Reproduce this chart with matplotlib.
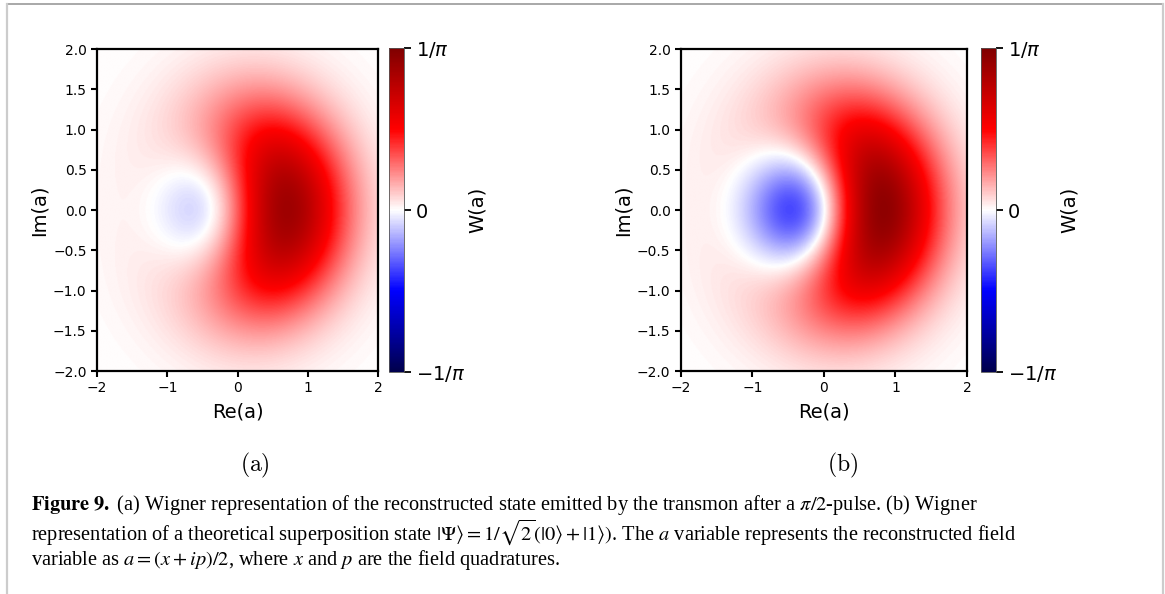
import numpy as np
import matplotlib
matplotlib.use("Agg")
from matplotlib import pyplot as plt
from matplotlib.lines import Line2D


# density matrix elements in the Fock basis {|0>, |1>}: populations and coherence
panels = [r"$\mathrm{(a)}$", r"$\mathrm{(b)}$"]
p0_vals = [0.66, 0.5]
p1_vals = [0.34, 0.5]
coh_vals = [0.39, 0.5]

xticks = [-2, -1, 0, 1, 2]
yticks = [-2.0, -1.5, -1.0, -0.5, 0.0, 0.5, 1.0, 1.5, 2.0]
cbar_ticks = [-1 / np.pi, 0, 1 / np.pi]
cbar_labels = [r"$-1/\pi$", "0", r"$1/\pi$"]

caption = [
    r"$\mathbf{Figure\ 9.}$ (a) Wigner representation of the reconstructed state emitted by the transmon after a $\pi/2$-pulse. (b) Wigner",
    r"representation of a theoretical superposition state $|\Psi\rangle = 1/\sqrt{2}(|0\rangle + |1\rangle)$. The $a$ variable represents the reconstructed field",
    r"variable as $a = (x + ip)/2$, where $x$ and $p$ are the field quadratures.",
]


#wigner function of a qubit-like state truncated to the first two fock levels
def wigner(x, y, p0, p1, c):
    r2 = x**2 + y**2
    return np.exp(-r2) / np.pi * (p0 + p1 * (2 * r2 - 1) + 2 * np.sqrt(2) * c * x)


def main():
    fig = plt.figure(figsize=(11.65, 5.94), dpi=100)

    grid = np.linspace(-2, 2, 401)
    X, Y = np.meshgrid(grid, grid)

    #axes boxes [left, bottom, width, height] for the map and its colorbar
    ax_pos = [[0.0833, 0.3754, 0.2412, 0.5421], [0.5845, 0.3754, 0.2455, 0.5421]]
    cb_pos = [[0.3339, 0.3737, 0.0129, 0.5455], [0.8421, 0.3737, 0.0129, 0.5455]]
    sub_x = [255 / 1165, 843 / 1165]

    for i in range(2):
        ax = fig.add_axes(ax_pos[i])
        W = wigner(X, Y, p0_vals[i], p1_vals[i], coh_vals[i])
        im = ax.imshow(W, origin="lower", extent=[-2, 2, -2, 2], aspect="auto",
                       cmap="seismic", vmin=-1 / np.pi, vmax=1 / np.pi,
                       interpolation="bilinear")
        ax.set_xticks(xticks)
        ax.set_yticks(yticks)
        ax.tick_params(labelsize=10, width=1.5, length=4)
        for sp in ax.spines.values():
            sp.set_linewidth(1.6)
        ax.set_xlabel("Re(a)", fontsize=14, labelpad=5)
        ax.set_ylabel("Im(a)", fontsize=14, labelpad=3)

        cax = fig.add_axes(cb_pos[i])
        cb = fig.colorbar(im, cax=cax, ticks=cbar_ticks)
        cb.ax.set_yticklabels(cbar_labels)
        cb.ax.tick_params(labelsize=14, width=1.3, length=5)
        cb.outline.set_linewidth(0.6)
        cb.outline.set_edgecolor("#555555")
        cb.set_label("W(a)", fontsize=14, labelpad=2)

        fig.text(sub_x[i], 1 - 465 / 594, panels[i], fontsize=17, ha="center", va="center",
                 math_fontfamily="cm")

    #caption under the two panels, placed by baseline
    ys = [510, 540, 565]
    for line, yy in zip(caption, ys):
        fig.text(31 / 1165, 1 - yy / 594, line, fontsize=14.7, ha="left", va="baseline",
                 family="Liberation Serif", math_fontfamily="stix")

    #page frame
    fig.add_artist(Line2D([7 / 1165, 1163 / 1165], [1 - 4 / 594, 1 - 4 / 594],
                          color="#999999", lw=1.2))
    fig.add_artist(Line2D([7 / 1165, 7 / 1165], [0, 1 - 4 / 594], color="#cccccc", lw=1.6))
    fig.add_artist(Line2D([1163 / 1165, 1163 / 1165], [0, 1 - 4 / 594], color="#cccccc", lw=1.6))

    fig.savefig("out.png", dpi=100)


if __name__ == "__main__":
    main()
